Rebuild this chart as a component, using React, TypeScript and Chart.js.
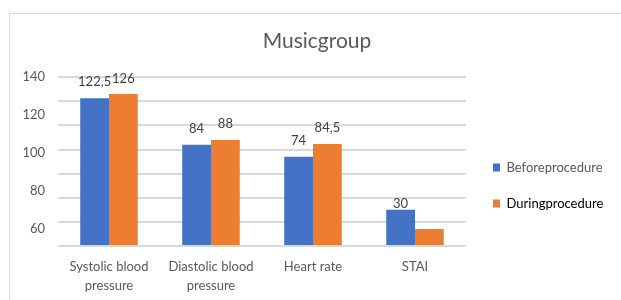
import React, { useEffect, useRef } from "react";
import { Chart, registerables } from "chart.js";

Chart.register(...registerables);

const titleText = "Musicgroup";
const categories: (string | string[])[] = [
  ["Systolic blood", "pressure"],
  ["Diastolic blood", "pressure"],
  "Heart rate",
  "STAI",
];
const seriesNames = ["Beforeprocedure", "Duringprocedure"];
const beforeValues = [122.5, 84, 74, 30];
const duringValues = [126, 88, 84.5, 14];
const beforeLabels = ["122,5", "84", "74", "30"];
const duringLabels = ["126", "88", "84,5", ""];
const yTickValues = [60, 80, 100, 120, 140];

const FONT = "Lato, 'Noto Sans', sans-serif";
const BLUE = "#4472C4";
const ORANGE = "#ED7D31";
const GRID = "#d9d9d9";
const TEXT = "#595959";

// lift of each value label above its bar (px)
const labelLifts = [
  [16, 16, 16, 6],
  [15, 16, 16, 0],
];

const valueLabelPlugin = {
  id: "valueLabels",
  afterDatasetsDraw(chart: any) {
    const ctx = chart.ctx;
    ctx.save();
    ctx.font = `13px ${FONT}`;
    ctx.fillStyle = "#404040";
    ctx.textAlign = "center";
    ctx.textBaseline = "middle";
    [beforeLabels, duringLabels].forEach((arr, di) => {
      const meta = chart.getDatasetMeta(di);
      arr.forEach((t, i) => {
        if (!t) return;
        const el = meta.data[i];
        ctx.fillText(t, el.x, el.y - labelLifts[di][i]);
      });
    });
    ctx.restore();
  },
};

const legendPlugin = {
  id: "legendBox",
  beforeLayout(chart: any) {
    const lg = chart.legend;
    if (lg && !lg.__patched) {
      const orig = lg.fit.bind(lg);
      lg.fit = function () {
        orig();
        this.width = 150;
      };
      lg.__patched = true;
    }
  },
  afterLayout(chart: any) {
    const lg = chart.legend;
    if (lg) {
      lg.left += 4;
      lg.right += 4;
    }
  },
};

export default function App() {
  const ref = useRef<HTMLCanvasElement | null>(null);

  useEffect(() => {
    if (!ref.current) return;
    const chart = new Chart(ref.current, {
      type: "bar",
      data: {
        labels: categories as any,
        datasets: [
          {
            label: seriesNames[0],
            data: beforeValues,
            backgroundColor: BLUE,
            borderWidth: 0,
            yAxisID: "y",
            barPercentage: 1,
            categoryPercentage: 0.564,
          },
          {
            label: seriesNames[1],
            data: duringValues,
            backgroundColor: ORANGE,
            borderWidth: 0,
            yAxisID: "y",
            barPercentage: 1,
            categoryPercentage: 0.564,
          },
        ],
      },
      options: {
        animation: false,
        responsive: false,
        maintainAspectRatio: false,
        layout: { padding: { left: 8, right: 5, top: 0, bottom: 0 } },
        scales: {
          x: {
            grid: { display: false, drawTicks: false },
            border: { display: false },
            ticks: {
              color: TEXT,
              font: { family: FONT, size: 13, lineHeight: 1.46 },
              padding: 11,
              maxRotation: 0,
              autoSkip: false,
            },
            afterFit: (s: any) => {
              s.height = 54;
            },
          },
          y: {
            position: "left",
            min: 0,
            max: 140,
            ticks: { stepSize: 20, display: false },
            grid: { color: GRID, lineWidth: 2, drawTicks: false },
            border: { display: false },
            afterFit: (s: any) => {
              s.width = 0;
            },
          },
          y2: {
            position: "left",
            min: 51,
            max: 140,
            grid: { display: false, drawTicks: false },
            border: { display: false },
            afterBuildTicks: (s: any) => {
              s.ticks = yTickValues.map((v) => ({ value: v }));
            },
            ticks: {
              color: TEXT,
              font: { family: FONT, size: 13 },
              padding: 13,
            },
            afterFit: (s: any) => {
              s.width = 40;
            },
          },
        },
        plugins: {
          title: {
            display: true,
            text: titleText,
            color: TEXT,
            font: { family: FONT, size: 21, weight: "normal" },
            padding: { top: 15, bottom: 23 },
          },
          legend: {
            position: "right",
            align: "center",
            title: {
              display: true,
              text: "",
              font: { size: 10 },
              padding: { top: 45, bottom: 0 },
            },
            labels: {
              boxWidth: 7,
              boxHeight: 8,
              padding: 23,
              font: { family: FONT, size: 13 },
              generateLabels: (c: any) =>
                c.data.datasets.map((ds: any, i: number) => ({
                  text: ds.label,
                  fillStyle: ds.backgroundColor,
                  strokeStyle: ds.backgroundColor,
                  lineWidth: 0,
                  hidden: false,
                  datasetIndex: i,
                  fontColor: i === 0 ? TEXT : "#000000",
                })),
            },
          },
          tooltip: { enabled: false },
        },
      } as any,
      plugins: [valueLabelPlugin, legendPlugin] as any,
    });
    return () => chart.destroy();
  }, []);

  return (
    <div
      style={{
        position: "fixed",
        left: 9,
        top: 13,
        width: 612,
        height: 287,
        borderTop: `1px solid ${GRID}`,
        borderLeft: `1px solid ${GRID}`,
        boxSizing: "border-box",
        background: "#fff",
      }}
    >
      <canvas
        ref={ref}
        width={611}
        height={286}
        style={{ display: "block", width: 611, height: 286 }}
      />
    </div>
  );
}
